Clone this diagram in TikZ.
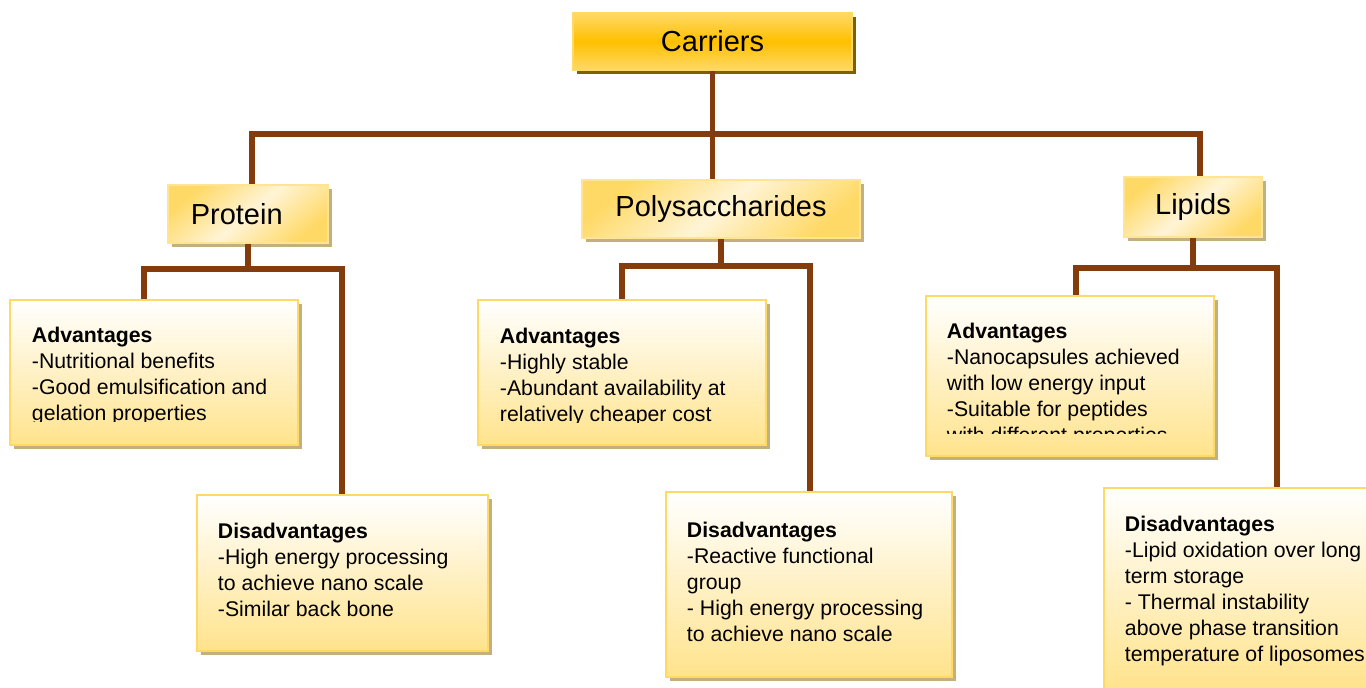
\documentclass[tikz,border=0pt]{standalone}
\usepackage{fontspec}
\setmainfont{Liberation Sans}
\usetikzlibrary{shadows,positioning}

\definecolor{linkbrown}{HTML}{843C0C}
\definecolor{gold}{HTML}{FFC000}
\definecolor{goldlight}{HTML}{FFD966}
\definecolor{cream}{HTML}{FFF4D6}
\definecolor{sand}{HTML}{FFE38C}
\definecolor{olive}{HTML}{7F6000}
\definecolor{tanshadow}{HTML}{C2B17F}

\begin{document}
\begin{tikzpicture}[
    x=0.02cm, y=-0.02cm,
    link/.style={line width=2.9pt, draw=linkbrown, line join=miter},
    rootbox/.style={draw=goldlight, line width=1.4pt, top color=goldlight, bottom color=goldlight,
        middle color=gold, inner sep=0pt, font=\fontsize{16.5}{19}\selectfont,
        drop shadow={shadow xshift=0.08cm, shadow yshift=-0.08cm, fill=olive, opacity=1}},
    headbox/.style={draw=goldlight!70, line width=1.4pt, top color=goldlight, bottom color=goldlight,
        middle color=cream, shading angle=40, inner sep=0pt, font=\fontsize{16.5}{19}\selectfont,
        drop shadow={shadow xshift=0.08cm, shadow yshift=-0.08cm, fill=tanshadow, opacity=1}},
    infobox/.style={draw=goldlight, line width=1.6pt, top color=white, bottom color=sand, inner sep=0pt,
        drop shadow={shadow xshift=0.08cm, shadow yshift=-0.08cm, fill=tanshadow, opacity=1}},
    infotext/.style={anchor=north west, inner sep=0pt, align=left, font=\fontsize{12.1}{14.8}\selectfont}
]
\useasboundingbox (0,0) rectangle (1366,688);

% Boxes
\node[rootbox, minimum width=5.58cm, minimum height=1.14cm] (carriers) at (712.5,41.5) {Carriers};

\node[headbox, minimum width=3.2cm, minimum height=1.16cm] (protein) at (248,214) {\hspace{-0.45cm}Protein};
\node[headbox, minimum width=5.56cm, minimum height=1.16cm] (poly) at (721,209) {Polysaccharides};
\node[headbox, minimum width=2.76cm, minimum height=1.2cm] (lipids) at (1193,207) {Lipids};

\node[infobox, minimum width=5.76cm, minimum height=2.9cm] (padv) at (154,372.5) {};
\node[infobox, minimum width=5.82cm, minimum height=3.12cm] (pdis) at (342.5,573) {};
\node[infobox, minimum width=5.76cm, minimum height=2.9cm] (yadv) at (622,372.5) {};
\node[infobox, minimum width=5.72cm, minimum height=3.7cm] (ydis) at (809,584.5) {};
\node[infobox, minimum width=5.76cm, minimum height=3.2cm] (ladv) at (1070,376) {};
\node[infobox, minimum width=5.32cm, minimum height=4.04cm] (ldis) at (1237,589) {};

% Texts of the boxes
\begin{scope}
  \clip (padv.north west) rectangle (padv.east |- 0,422);
  \node[infotext] (padvtext) at ([shift={(23,28)}]padv.north west)
    {\textbf{Advantages}\\-Nutritional benefits\\-Good emulsification and\\gelation properties};
\end{scope}
\node[infotext] (pdistext) at ([shift={(22,29)}]pdis.north west)
  {\textbf{Disadvantages}\\-High energy processing\\to achieve nano scale\\-Similar back bone};
\begin{scope}
  \clip (yadv.north west) rectangle (yadv.east |- 0,423);
  \node[infotext] (yadvtext) at ([shift={(23,29)}]yadv.north west)
    {\textbf{Advantages}\\-Highly stable\\-Abundant availability at\\relatively cheaper cost};
\end{scope}
\node[infotext] (ydistext) at ([shift={(22,31)}]ydis.north west)
  {\textbf{Disadvantages}\\-Reactive functional\\group\\- High energy processing\\to achieve nano scale};
\begin{scope}
  \clip (ladv.north west) rectangle (ladv.east |- 0,434);
  \node[infotext] (ladvtext) at ([shift={(22,28)}]ladv.north west)
    {\textbf{Advantages}\\-Nanocapsules achieved\\with low energy input\\-Suitable for peptides\\with different properties};
\end{scope}
\node[infotext] (ldistext) at ([shift={(22,29)}]ldis.north west)
  {\textbf{Disadvantages}\\-Lipid oxidation over long\\term storage\\- Thermal instability\\above phase transition\\temperature of liposomes};

% Bus coordinates
\coordinate (busL) at (252,134);
\coordinate (busR) at (1200,134);
\coordinate (protL) at (144,269);
\coordinate (protR) at (342,269);
\coordinate (polyL) at (622,266);
\coordinate (polyR) at (810,266);
\coordinate (lipL) at (1076,268);
\coordinate (lipR) at (1277,268);

% Connectors
\draw[link] (carriers.south) -- (carriers.south |- busL);
\draw[link] (busL |- protein.north) -- (busL) -- (busR) -- (busR |- lipids.north);
\draw[link] (carriers.south |- busL) -- (carriers.south |- poly.north);

\draw[link] (protein.south) -- (protein.south |- protL);
\draw[link] (protL |- padv.north) -- (protL) -- (protR) -- (protR |- pdis.north);

\draw[link] (poly.south) -- (poly.south |- polyL);
\draw[link] (polyL |- yadv.north) -- (polyL) -- (polyR) -- (polyR |- ydis.north);

\draw[link] (lipids.south) -- (lipids.south |- lipL);
\draw[link] (lipL |- ladv.north) -- (lipL) -- (lipR) -- (lipR |- ldis.north);

\end{tikzpicture}
\end{document}
